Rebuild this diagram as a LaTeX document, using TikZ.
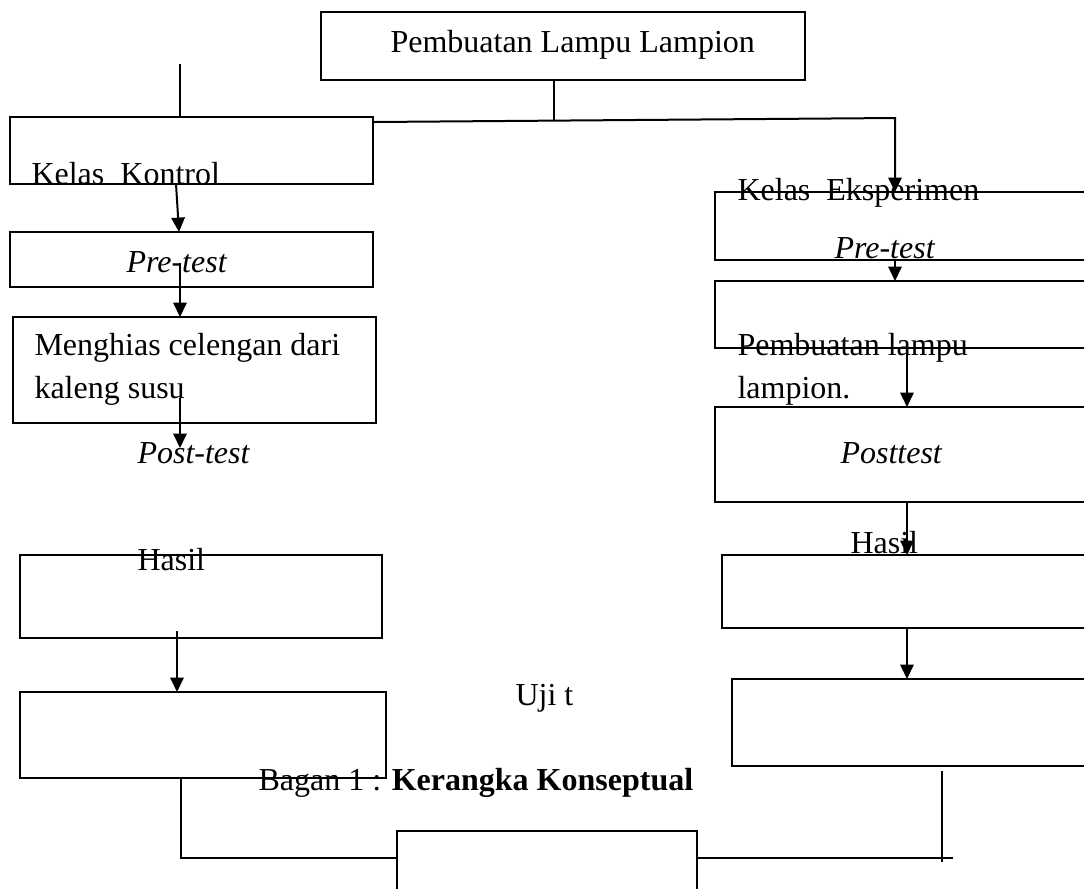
\documentclass[tikz,border=0pt]{standalone}
\usepackage{fontspec}
\setmainfont{Liberation Serif}
\usetikzlibrary{arrows.meta}

\newdimen\px
\px=0.375pt

\tikzset{
  kotak/.style={draw, line width=0.8pt, inner sep=0pt, outer sep=0pt, anchor=north west},
  teks/.style={inner sep=0pt, anchor=base west, font=\fontsize{12}{14}\selectfont},
  garis/.style={line width=0.75pt},
  panah/.style={line width=0.75pt, -{Triangle[length=5.4pt,width=5pt]}}
}

\begin{document}
\begin{tikzpicture}[x=0.375pt, y=-0.375pt]
        % batas gambar
        \clip (0,0) rectangle (1084,888);

        % kotak judul dan kolom kiri
        \node[kotak, minimum width=484\px, minimum height=68\px] (judul) at (321,12) {};
        \node[kotak, minimum width=363\px, minimum height=67\px] (kontrol) at (10,117) {};
        \node[kotak, minimum width=363\px, minimum height=55\px] (pretesta) at (10,232) {};
        \node[kotak, minimum width=363\px, minimum height=106\px] (menghias) at (13,317) {};
        \node[kotak, minimum width=362\px, minimum height=83\px] (hasila) at (20,555) {};
        \node[kotak, minimum width=366\px, minimum height=86\px] (ujia) at (20,692) {};

        % kolom kanan, terpotong di tepi kanan
        \node[kotak, minimum width=400\px, minimum height=68\px] (eksperimen) at (715,192) {};
        \node[kotak, minimum width=400\px, minimum height=67\px] (perlakuan) at (715,281) {};
        \node[kotak, minimum width=400\px, minimum height=95\px] (posttestb) at (715,407) {};
        \node[kotak, minimum width=400\px, minimum height=73\px] (hasilb) at (722,555) {};
        \node[kotak, minimum width=400\px, minimum height=87\px] (ujib) at (732,679) {};

        % kotak paling bawah
        \node[kotak, minimum width=300\px, minimum height=80\px] (akhir) at (397,831) {};

        % tulisan
        \node[teks] (tjudul) at (390,52) {Pembuatan Lampu Lampion};
        \node[teks] (tkontrol) at (31,184) {Kelas\ \ Kontrol};
        \node[teks] (tprea) at (126,272) {\textit{Pre-test}};
        \node[teks] (tmenghias) at (34,355) {Menghias celengan dari};
        \node[teks] (tkaleng) at (34,398) {kaleng susu};
        \node[teks] (tposta) at (137,463) {\textit{Post-test}};
        \node[teks] (thasila) at (137,570) {Hasil};
        \node[teks] (teksperimen) at (737,200) {Kelas\ \ Eksperimen};
        \node[teks] (tpreb) at (834,258) {\textit{Pre-test}};
        \node[teks] (tlampu) at (737,355) {Pembuatan lampu};
        \node[teks] (tlampion) at (737,398) {lampion.};
        \node[teks] (tpostb) at (840,463) {\textit{Posttest}};
        \node[teks] (thasilb) at (850,553) {Hasil};
        \node[teks] (tuji) at (515,705) {Uji t};
        \node[teks] (tbagan) at (258,790) {Bagan 1 : \textbf{Kerangka Konseptual}};

        % titik bantu
        \coordinate (atas) at (180,64);
        \coordinate (cabang) at (554,120);
        \coordinate (kiri) at (373,122);
        \coordinate (belok) at (895,118);
        \coordinate (ka0) at (176,0);
        \coordinate (ka) at (179,0);
        \coordinate (a2) at (180,263);
        \coordinate (a3) at (180,398);
        \coordinate (a3b) at (180,448);
        \coordinate (a4) at (177,631);
        \coordinate (kb) at (907,0);
        \coordinate (bawah) at (181,858);
        \coordinate (ujung) at (953,858);
        \coordinate (tegak) at (942,771);
        \coordinate (tegakb) at (942,862);

        % garis cabang atas
        \draw[garis] (atas) -- (atas |- kontrol.north);
        \draw[garis] (judul.south -| cabang) -- (cabang);
        \draw[panah] (kiri) -- (belok) -- (belok |- eksperimen.north);

        % panah kolom kiri
        \draw[panah] (ka0 |- kontrol.south) -- (ka |- pretesta.north);
        \draw[panah] (a2) -- (a2 |- menghias.north);
        \draw[panah] (a3) -- (a3b);
        \draw[panah] (a4) -- (a4 |- ujia.north);

        % panah kolom kanan
        \draw[panah] (belok |- eksperimen.south) -- (belok |- perlakuan.north);
        \draw[panah] (kb |- perlakuan.south) -- (kb |- posttestb.north);
        \draw[panah] (kb |- posttestb.south) -- (kb |- hasilb.north);
        \draw[panah] (kb |- hasilb.south) -- (kb |- ujib.north);

        % garis bawah
        \draw[garis] (bawah |- ujia.south) -- (bawah) -- (bawah -| akhir.west);
        \draw[garis] (ujung -| akhir.east) -- (ujung);
        \draw[garis] (tegak) -- (tegakb);
\end{tikzpicture}
\end{document}
